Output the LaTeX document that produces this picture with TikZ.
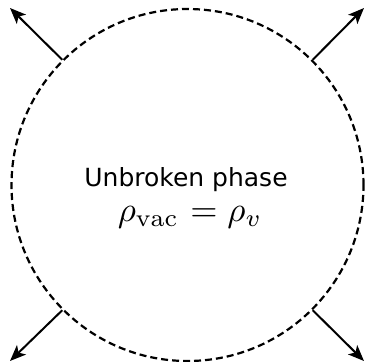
\documentclass[tikz,border=0pt]{standalone}
\usepackage{fontspec}
\newfontfamily\dejavu{DejaVu Sans}
\usetikzlibrary{arrows.meta}
\begin{document}
\begin{tikzpicture}[x=1pt,y=-1pt,
  bnd/.style={draw, dashed, line width=2.2pt, dash pattern=on 7pt off 4pt},
  outarrow/.style={-{Stealth[length=16pt,width=13pt,inset=4pt]}, line width=2pt}]
\useasboundingbox (0,0) rectangle (365,362);
\node[circle, bnd, minimum size=352pt, inner sep=0pt] (c) at (187.5,185) {};
\node[font=\dejavu\fontsize{25}{28}\selectfont, anchor=base] (t) at (186,186) {Unbroken phase};
\node[scale=3.5, anchor=base, inner sep=0pt] (m) at (190,221) {$\rho_{\mathrm{vac}}\mkern1mu=\rho_v$};
\coordinate (ul) at (10,8);
\coordinate (ur) at (364,8);
\coordinate (ll) at (10,361);
\coordinate (lr) at (364,361);
\draw[outarrow] (c.north west) -- (ul);
\draw[outarrow] (c.north east) -- (ur);
\draw[outarrow] (c.south west) -- (ll);
\draw[outarrow] (c.south east) -- (lr);
\end{tikzpicture}
\end{document}
